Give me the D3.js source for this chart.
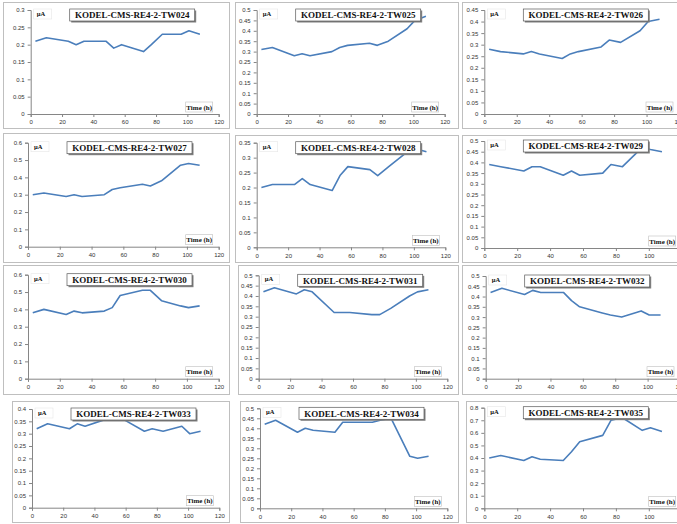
<!DOCTYPE html>
<html lang="en">
<head>
    <meta charset="utf-8">
    <title>KODEL-CMS-RE4-2</title>
    <script src="https://cdn.jsdelivr.net/npm/d3@7"></script>
    <style>
        body { margin: 0; background: #fff; }
        .tick text { font-family: "Liberation Sans", Arial, sans-serif; font-size: 6px; fill: #333; }
        .lbl { font-family: "Liberation Serif", "Times New Roman", serif; font-weight: bold; fill: #111; }
    </style>
</head>
<body>
    <svg width="677" height="524"></svg>
    <script>
        // sampling times (h), shared by every sensor
        var times = [3, 10, 24, 29, 34, 48, 53, 58, 72, 77, 84, 96, 101, 108];

        var names = ["TW024", "TW025", "TW026", "TW027", "TW028", "TW029",
                     "TW030", "TW031", "TW032", "TW033", "TW034", "TW035"];

        // current (uA) per sensor
        var tw024 = [0.21, 0.22, 0.21, 0.20, 0.21, 0.21, 0.19, 0.20, 0.18, 0.20, 0.23, 0.23, 0.24, 0.23];
        var tw025 = [0.31, 0.32, 0.28, 0.29, 0.28, 0.30, 0.32, 0.33, 0.34, 0.33, 0.35, 0.41, 0.45, 0.47];
        var tw026 = [0.28, 0.27, 0.26, 0.27, 0.26, 0.24, 0.26, 0.27, 0.29, 0.32, 0.31, 0.36, 0.40, 0.41];
        var tw027 = [0.30, 0.31, 0.29, 0.30, 0.29, 0.30, 0.33, 0.34, 0.36, 0.35, 0.38, 0.47, 0.48, 0.47];
        var tw028 = [0.20, 0.21, 0.21, 0.23, 0.21, 0.19, 0.24, 0.27, 0.26, 0.24, 0.27, 0.32, 0.33, 0.32];
        var tw029 = [0.39, 0.38, 0.36, 0.38, 0.38, 0.34, 0.36, 0.34, 0.35, 0.39, 0.38, 0.47, 0.46, 0.45];
        var tw030 = [0.38, 0.40, 0.37, 0.39, 0.38, 0.39, 0.41, 0.48, 0.51, 0.51, 0.45, 0.42, 0.41, 0.42];
        var tw031 = [0.42, 0.44, 0.41, 0.43, 0.42, 0.32, 0.32, 0.32, 0.31, 0.31, 0.34, 0.40, 0.42, 0.43];
        var tw032 = [0.42, 0.44, 0.41, 0.43, 0.42, 0.42, 0.38, 0.35, 0.32, 0.31, 0.30, 0.33, 0.31, 0.31];
        var tw033 = [0.32, 0.34, 0.32, 0.34, 0.33, 0.36, 0.37, 0.36, 0.31, 0.32, 0.31, 0.33, 0.30, 0.31];
        var tw034 = [0.42, 0.44, 0.38, 0.40, 0.39, 0.38, 0.43, 0.43, 0.43, 0.44, 0.45, 0.26, 0.25, 0.26];
        var tw035 = [0.40, 0.42, 0.38, 0.41, 0.39, 0.38, 0.45, 0.53, 0.58, 0.70, 0.72, 0.62, 0.64, 0.61];
        var series = [tw024, tw025, tw026, tw027, tw028, tw029, tw030, tw031, tw032, tw033, tw034, tw035];

        // y axis top value and tick step per panel
        var yMax  = [0.3, 0.5, 0.45, 0.6, 0.35, 0.5, 0.6, 0.5, 0.5, 0.4, 0.5, 0.8];
        var yStep = [0.05, 0.05, 0.05, 0.1, 0.05, 0.05, 0.1, 0.05, 0.05, 0.05, 0.05, 0.1];
        var xTicks = [0, 20, 40, 60, 80, 100, 120];

        // frame [left, top, right, bottom] and plot [x0, x120, yTop, yBottom]
        var frames = [
            [3, 2, 229, 128], [235, 2, 458, 128], [462, 2, 684, 128],
            [3, 133, 229, 262], [235, 135, 458, 262], [462, 135, 684, 262],
            [3, 265, 229, 394], [238, 265, 458, 394], [462, 265, 684, 394],
            [12, 401, 229, 522], [240, 401, 458, 522], [466, 401, 684, 522]
        ];
        var plots = [
            [30.7, 218.7, 10, 114], [256.7, 444.7, 10, 114], [484.3, 679, 10, 114],
            [28, 218.7, 142.7, 246.7], [256.7, 445.3, 142.7, 247.3], [484.3, 681.7, 141, 248],
            [28, 218.7, 274.7, 378.7], [258.7, 447.3, 275.3, 378.7], [485.7, 680, 276, 378.7],
            [32, 219.3, 409, 507.7], [260, 447.3, 408.3, 508.3], [484.3, 681.7, 407.7, 508.3]
        ];

        var svg = d3.select("svg");

        for (var i = 0; i < series.length; i++) {
            var f = frames[i], p = plots[i];
            var g = svg.append("g");

            g.append("rect")
                .attr("x", f[0] + 0.5).attr("y", f[1] + 0.5)
                .attr("width", f[2] - f[0]).attr("height", f[3] - f[1])
                .attr("fill", "#fff").attr("stroke", "#bfbfbf").attr("stroke-width", 1);

            var x = d3.scaleLinear().domain([0, 120]).range([p[0], p[1]]);
            var y = d3.scaleLinear().domain([0, yMax[i]]).range([p[3], p[2]]);

            var yt = d3.range(0, yMax[i] + yStep[i] / 2, yStep[i]).map(function (v) { return +v.toFixed(2); });

            var xa = g.append("g")
                .attr("transform", "translate(0," + p[3] + ")")
                .call(d3.axisBottom(x).tickValues(xTicks).tickSize(3).tickPadding(3).tickFormat(d3.format("d")));
            var ya = g.append("g")
                .attr("transform", "translate(" + p[0] + ",0)")
                .call(d3.axisLeft(y).tickValues(yt).tickSize(3).tickPadding(3).tickFormat(function (d) { return d3.format("")(d); }));
            [xa, ya].forEach(function (a) {
                a.select(".domain").attr("stroke", "#868686");
                a.selectAll(".tick line").attr("stroke", "#868686");
                a.attr("font-size", null).attr("font-family", null);
            });

            var data = times.map(function (t, k) { return [t, series[i][k]]; });
            g.append("path")
                .datum(data)
                .attr("fill", "none")
                .attr("stroke", "#4a7ebb")
                .attr("stroke-width", 1.6)
                .attr("stroke-linejoin", "round")
                .attr("d", d3.line().x(function (d) { return x(d[0]); }).y(function (d) { return y(d[1]); }));

            // title box with shadow
            var bx = p[0] + 39, by = p[2] - 1, bw = 125, bh = 12;
            g.append("rect").attr("x", bx + 1.5).attr("y", by + 1.5).attr("width", bw).attr("height", bh)
                .attr("fill", "#7f7f7f");
            g.append("rect").attr("x", bx).attr("y", by).attr("width", bw).attr("height", bh)
                .attr("fill", "#fff").attr("stroke", "#595959").attr("stroke-width", 0.7);
            g.append("text").attr("class", "lbl")
                .attr("x", bx + bw / 2).attr("y", by + bh / 2 + 3.2)
                .attr("text-anchor", "middle").attr("font-size", "9px")
                .text("KODEL-CMS-RE4-2-" + names[i]);

            // unit label
            g.append("rect").attr("x", p[0] + 3).attr("y", p[2] - 1).attr("width", 18).attr("height", 10)
                .attr("fill", "#fff").attr("stroke", "#e6e6e6").attr("stroke-width", 0.6);
            g.append("text").attr("class", "lbl")
                .attr("x", p[0] + 6).attr("y", p[2] + 6)
                .attr("font-size", "6.5px").text("\u00b5A");

            // axis title
            var tx = p[1] - 33, ty = p[3] - 12;
            g.append("rect").attr("x", tx).attr("y", ty).attr("width", 27).attr("height", 10)
                .attr("fill", "#fff").attr("stroke", "#bfbfbf").attr("stroke-width", 0.6);
            g.append("text").attr("class", "lbl")
                .attr("x", tx + 13.5).attr("y", ty + 7.5)
                .attr("text-anchor", "middle").attr("font-size", "7px")
                .text("Time (h)");
        }
    </script>
</body>
</html>
